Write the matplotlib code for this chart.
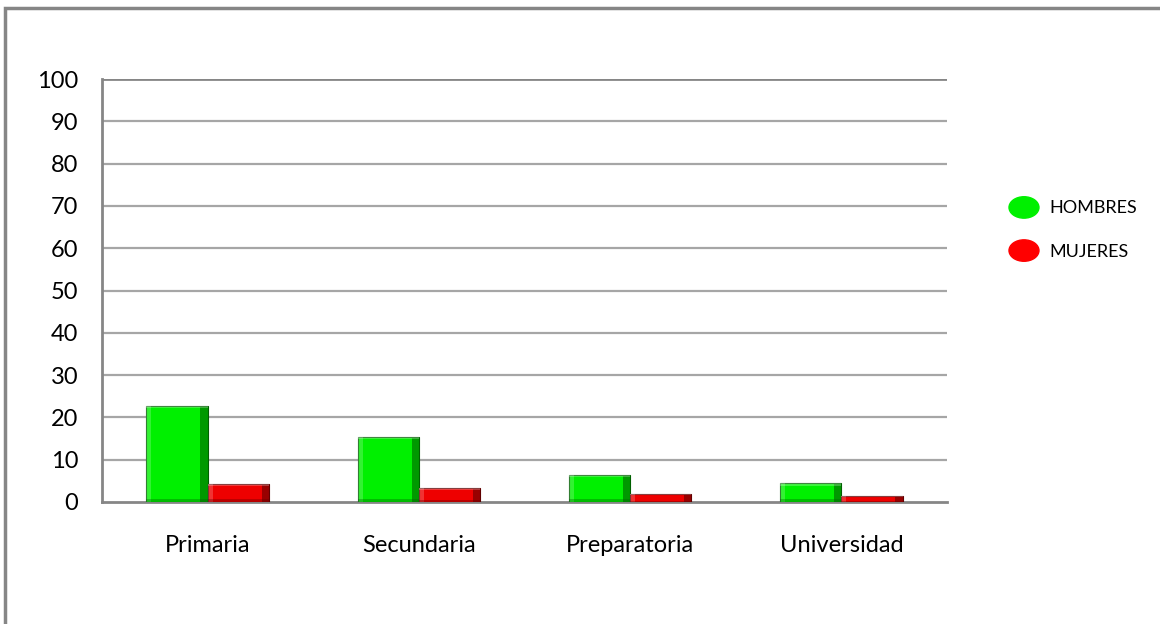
import matplotlib.pyplot as plt
import numpy as np
from matplotlib.patches import Ellipse, Rectangle
from matplotlib.legend_handler import HandlerPatch

# Datos
categorias = ["Primaria", "Secundaria", "Preparatoria", "Universidad"]
hombres = [22.8, 15.4, 6.5, 4.4]
mujeres = [4.2, 3.2, 1.8, 1.4]
series = ["HOMBRES", "MUJERES"]
yticks = list(range(0, 101, 10))

verde, verde_osc = "#00f000", "#006000"
rojo, rojo_osc = "#ee0000", "#600000"
gris = "#868686"

plt.rcParams["font.family"] = ["Lato", "DejaVu Sans"]

fig = plt.figure(figsize=(11.6, 6.24), dpi=100)
ax = fig.add_axes([102 / 1160, 1 - 502 / 624, 845 / 1160, 423 / 624])

x = np.arange(len(categorias))
w = 0.29

def bar_bisel(xs, vals, color, oscuro):
    # barra principal + bordes para imitar el bisel de Excel
    vals = np.array(vals)
    ax.bar(xs, vals, w, color=color, edgecolor=oscuro, linewidth=0.8, zorder=3)
    ax.bar(xs + w * 0.44, vals, w * 0.12, color=oscuro, alpha=0.6, linewidth=0, zorder=4)
    ax.bar(xs - w * 0.46, vals, w * 0.08, color="white", alpha=0.2, linewidth=0, zorder=4)
    ax.bar(xs, np.minimum(vals * 0.15, 0.6), w, color=oscuro, alpha=0.35, linewidth=0, zorder=4)
    ax.bar(xs, np.minimum(vals * 0.12, 0.6), w, bottom=vals - np.minimum(vals * 0.12, 0.6),
           color="white", alpha=0.25, linewidth=0, zorder=4)

bar_bisel(x - w / 2, hombres, verde, verde_osc)
bar_bisel(x + w / 2, mujeres, rojo, rojo_osc)

ax.set_xlim(-0.5, len(categorias) - 0.5)
ax.set_ylim(0, 100)
ax.set_yticks(yticks)
ax.set_xticks(x)
ax.set_xticklabels(categorias)
ax.tick_params(axis="both", length=0, labelsize=17, colors="black")
ax.tick_params(axis="x", pad=24)
ax.tick_params(axis="y", pad=17)

for v in yticks[1:-1]:
    ax.axhline(v, color="#a6a6a6", lw=1.6, zorder=1)
ax.axhline(100, color=gris, lw=2, zorder=1)

for s in ["top", "right"]:
    ax.spines[s].set_visible(False)
for s in ["left", "bottom"]:
    ax.spines[s].set_color(gris)
    ax.spines[s].set_linewidth(2)

# Marco exterior
fig.patches.append(Rectangle((5 / 1160, -0.1), 1.2, 1.1 - 8 / 624, transform=fig.transFigure,
                             fill=False, edgecolor=gris, lw=2.5))

class HandlerEllipse(HandlerPatch):
    def create_artists(self, legend, orig_handle, xdescent, ydescent, width, height, fontsize, trans):
        c = (width / 2 - xdescent, height / 2 - ydescent)
        p = Ellipse(c, width, height)
        self.update_prop(p, orig_handle, legend)
        p.set_transform(trans)
        return [p]

handles = [Ellipse((0, 0), 1, 1, color=verde), Ellipse((0, 0), 1, 1, color="#ff0000")]
fig.legend(handles, series, handler_map={Ellipse: HandlerEllipse()},
           loc="center left", bbox_to_anchor=(1009 / 1160, 1 - 229 / 624),
           frameon=False, fontsize=13, handlelength=1.66, handleheight=1.45,
           labelspacing=1.2, handletextpad=0.55, borderpad=0, borderaxespad=0)

fig.savefig("out.png", dpi=100)
